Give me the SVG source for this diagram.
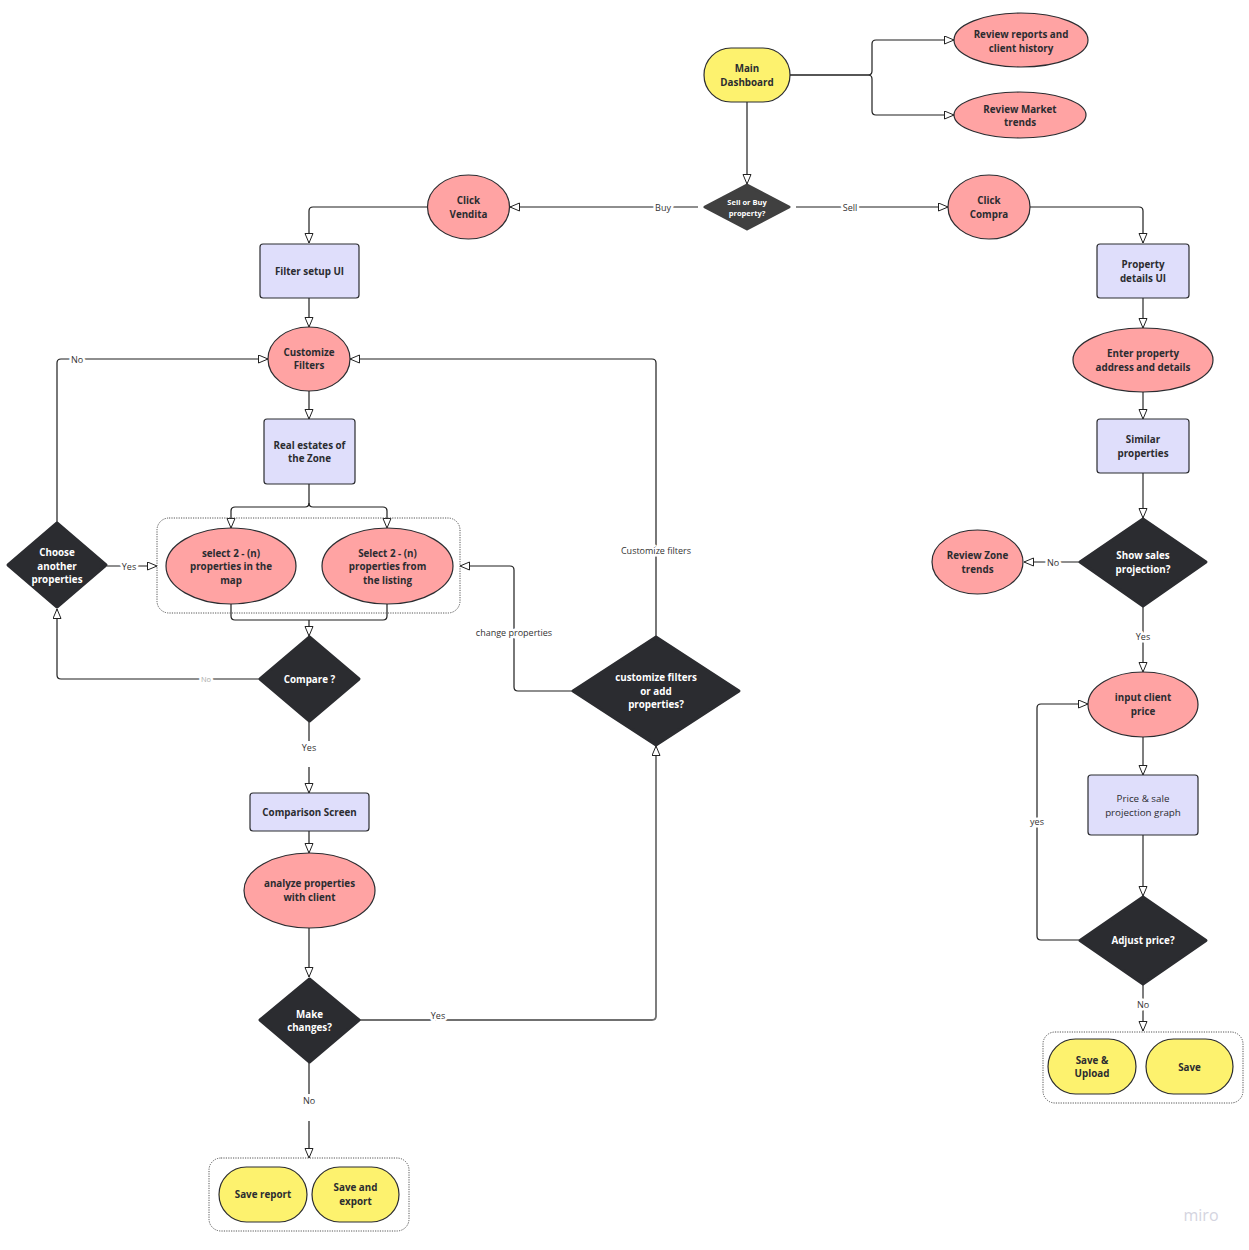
<svg xmlns="http://www.w3.org/2000/svg" width="1249" height="1250" viewBox="0 0 1249 1250">
<defs>
<marker id="arr" markerUnits="userSpaceOnUse" markerWidth="12" markerHeight="10" refX="10" refY="4.5" orient="auto">
<path d="M0.5,0.5 L10,4.5 L0.5,8.5 Z" fill="#fff" stroke="#222" stroke-width="1"/>
</marker>
</defs>
<style>
.yel{fill:#fdf26e;stroke:#2b2c30;stroke-width:1.2}
.pink{fill:#ffa3a3;stroke:#2b2c30;stroke-width:1.2}
.lav{fill:#dfdefb;stroke:#2b2c30;stroke-width:1.2}
.dia{fill:#2b2c30;stroke:#2b2c30;stroke-width:3;stroke-linejoin:round}
.grp{fill:none;stroke:#555;stroke-width:1;stroke-dasharray:1.2 1.2}
.t{font-family:"Open Sans","DejaVu Sans",sans-serif;font-size:9.8px;font-weight:bold;fill:#2b2c30;text-anchor:middle;dominant-baseline:central}
.tn{font-weight:normal}
.tw{fill:#ffffff}
.c{fill:none;stroke:#1e1e1e;stroke-width:1.2}
.cg{fill:none;stroke:#707070;stroke-width:1.8}
.lbl{font-family:"Open Sans","DejaVu Sans",sans-serif;font-size:9px;fill:#333;text-anchor:middle;dominant-baseline:central;stroke:#fff;stroke-width:5px;paint-order:stroke;stroke-linejoin:round}
</style>
<rect width="1249" height="1250" fill="#ffffff"/>

<g id="connectors">
<path class="c" d="M790,75 H868 Q872,75 872,71 V44 Q872,40 876,40 H954" marker-end="url(#arr)"/>
<path class="c" d="M790,75 H868 Q872,75 872,79 V111 Q872,115 876,115 H954" marker-end="url(#arr)"/>
<path class="c" d="M747,102 V184" marker-end="url(#arr)"/>
<path class="c" d="M698,207 H510" marker-end="url(#arr)"/>
<path class="c" d="M796,207 H948" marker-end="url(#arr)"/>
<path class="c" d="M428,207 H313 Q309,207 309,211 V243" marker-end="url(#arr)"/>
<path class="c" d="M1030,207 H1139 Q1143,207 1143,211 V243" marker-end="url(#arr)"/>
<path class="c" d="M309,298 V327" marker-end="url(#arr)"/>
<path class="c" d="M309,391 V419" marker-end="url(#arr)"/>
<path class="c" d="M309,484 V503 Q309,507 305,507 H235 Q231,507 231,511 V528" marker-end="url(#arr)"/>
<path class="c" d="M309,503 Q309,507 313,507 H383 Q387,507 387,511 V528" marker-end="url(#arr)"/>
<path class="c" d="M231,604 V616 Q231,620 235,620 H383 Q387,620 387,616 V604"/>
<path class="c" d="M309,620 V636" marker-end="url(#arr)"/>
<path class="c" d="M107,566 H157" marker-end="url(#arr)"/>
<path class="c" d="M57,522 V363 Q57,359 61,359 H268" marker-end="url(#arr)"/>
<path class="c" d="M259,679 H61 Q57,679 57,675 V609" marker-end="url(#arr)"/>
<path class="c" d="M309,722 V741"/>
<path class="c" d="M309,767 V793" marker-end="url(#arr)"/>
<path class="c" d="M309,831 V853" marker-end="url(#arr)"/>
<path class="c" d="M309,928 V977" marker-end="url(#arr)"/>
<path class="c" d="M309,1063 V1094"/>
<path class="c" d="M309,1121 V1158" marker-end="url(#arr)"/>
<path class="cg" d="M360,1020 H652 Q656,1020 656,1016 V746" marker-end="url(#arr)"/>
<path class="c" d="M656,636 V363 Q656,359 652,359 H350" marker-end="url(#arr)"/>
<path class="c" d="M572,691 H518 Q514,691 514,687 V570 Q514,566 510,566 H460" marker-end="url(#arr)"/>
<path class="cg" d="M1143,298 V328" marker-end="url(#arr)"/>
<path class="cg" d="M1143,392 V419" marker-end="url(#arr)"/>
<path class="cg" d="M1143,473 V518" marker-end="url(#arr)"/>
<path class="c" d="M1079,562 H1024" marker-end="url(#arr)"/>
<path class="cg" d="M1143,607 V672" marker-end="url(#arr)"/>
<path class="cg" d="M1143,737 V775" marker-end="url(#arr)"/>
<path class="cg" d="M1143,835 V896" marker-end="url(#arr)"/>
<path class="c" d="M1079,940 H1041 Q1037,940 1037,936 V708 Q1037,704 1041,704 H1088" marker-end="url(#arr)"/>
<path class="cg" d="M1143,985 V1031" marker-end="url(#arr)"/>

<text class="lbl" x="663" y="207">Buy</text>
<text class="lbl" x="850" y="207">Sell</text>
<text class="lbl" x="129" y="566">Yes</text>
<text class="lbl" x="77" y="359">No</text>
<text class="lbl" x="206" y="679" style="font-size:7.5px;fill:#aaa">No</text>
<text class="lbl" x="309" y="747">Yes</text>
<text class="lbl" x="309" y="1100">No</text>
<text class="lbl" x="438" y="1015">Yes</text>
<text class="lbl" x="656" y="550">Customize filters</text>
<text class="lbl" x="514" y="632">change properties</text>
<text class="lbl" x="1053" y="562">No</text>
<text class="lbl" x="1143" y="636">Yes</text>
<text class="lbl" x="1037" y="821">yes</text>
<text class="lbl" x="1143" y="1004">No</text>
</g>

<g id="main-dashboard">
<rect class="yel" x="704" y="48" width="86" height="54" rx="27"/>
<text class="t" x="747" y="68">Main</text>
<text class="t" x="747" y="82">Dashboard</text>
</g>
<g id="review-reports">
<ellipse class="pink" cx="1021" cy="40" rx="67" ry="27"/>
<text class="t" x="1021" y="34">Review reports and</text>
<text class="t" x="1021" y="48">client history</text>
</g>
<g id="review-market">
<ellipse class="pink" cx="1020" cy="115" rx="66" ry="23"/>
<text class="t" x="1020" y="109">Review Market</text>
<text class="t" x="1020" y="122">trends</text>
</g>
<g id="sell-or-buy">
<polygon class="dia" points="747,185 789,207 747,229 705,207" style="fill:#404040;stroke:#404040"/>
<text class="t tw" x="747" y="202" style="font-size:7.5px">Sell or Buy</text>
<text class="t tw" x="747" y="213" style="font-size:7.5px">property?</text>
</g>
<g id="click-vendita">
<ellipse class="pink" cx="468.5" cy="207" rx="41" ry="32"/>
<text class="t" x="468.5" y="200">Click</text>
<text class="t" x="468.5" y="214">Vendita</text>
</g>
<g id="click-compra">
<ellipse class="pink" cx="989" cy="207" rx="41" ry="32"/>
<text class="t" x="989" y="200">Click</text>
<text class="t" x="989" y="214">Compra</text>
</g>
<g id="filter-setup">
<rect class="lav" x="260" y="244" width="99" height="54" rx="3"/>
<text class="t" x="309.5" y="271">Filter setup UI</text>
</g>
<g id="customize-filters">
<ellipse class="pink" cx="309" cy="359" rx="41" ry="32"/>
<text class="t" x="309" y="352">Customize</text>
<text class="t" x="309" y="365">Filters</text>
</g>
<g id="real-estates">
<rect class="lav" x="264" y="419" width="91" height="65" rx="3"/>
<text class="t" x="309.5" y="445">Real estates of</text>
<text class="t" x="309.5" y="458">the Zone</text>
</g>
<g id="select-group">
<rect class="grp" x="157" y="518" width="303" height="95" rx="12"/>
<g id="select-map">
<ellipse class="pink" cx="231" cy="566" rx="65" ry="38"/>
<text class="t" x="231" y="553">select 2 - (n)</text>
<text class="t" x="231" y="566">properties in the</text>
<text class="t" x="231" y="580">map</text>
</g>
<g id="select-listing">
<ellipse class="pink" cx="387.5" cy="566" rx="65.5" ry="38"/>
<text class="t" x="387.5" y="553">Select 2 - (n)</text>
<text class="t" x="387.5" y="566">properties from</text>
<text class="t" x="387.5" y="580">the listing</text>
</g>
</g>
<g id="choose-another">
<polygon class="dia" points="57,523 106,565 57,607 8,565"/>
<text class="t tw" x="57" y="552">Choose</text>
<text class="t tw" x="57" y="566">another</text>
<text class="t tw" x="57" y="579">properties</text>
</g>
<g id="compare">
<polygon class="dia" points="309.5,637 359,679 309.5,721 260,679"/>
<text class="t tw" x="309.5" y="679">Compare ?</text>
</g>
<g id="comparison-screen">
<rect class="lav" x="250" y="793" width="119" height="38" rx="3"/>
<text class="t" x="309.5" y="812">Comparison Screen</text>
</g>
<g id="analyze">
<ellipse class="pink" cx="309.5" cy="890.5" rx="65.5" ry="37.5"/>
<text class="t" x="309.5" y="883">analyze properties</text>
<text class="t" x="309.5" y="897">with client</text>
</g>
<g id="make-changes">
<polygon class="dia" points="309.5,979 359,1020 309.5,1062 260,1020"/>
<text class="t tw" x="309.5" y="1014">Make</text>
<text class="t tw" x="309.5" y="1027">changes?</text>
</g>
<g id="save-group-left">
<rect class="grp" x="209" y="1158" width="200" height="73" rx="12"/>
<g id="save-report">
<rect class="yel" x="219" y="1167" width="88" height="55" rx="27.5"/>
<text class="t" x="263" y="1194">Save report</text>
</g>
<g id="save-export">
<rect class="yel" x="312" y="1167" width="87" height="55" rx="27.5"/>
<text class="t" x="355.5" y="1187">Save and</text>
<text class="t" x="355.5" y="1201">export</text>
</g>
</g>
<g id="customize-or-add">
<polygon class="dia" points="656,637 739,691 656,745 573,691"/>
<text class="t tw" x="656" y="677">customize filters</text>
<text class="t tw" x="656" y="691">or add</text>
<text class="t tw" x="656" y="704">properties?</text>
</g>
<g id="property-details">
<rect class="lav" x="1097" y="244" width="92" height="54" rx="3"/>
<text class="t" x="1143" y="264">Property</text>
<text class="t" x="1143" y="278">details UI</text>
</g>
<g id="enter-property">
<ellipse class="pink" cx="1143" cy="360" rx="70" ry="32"/>
<text class="t" x="1143" y="353">Enter property</text>
<text class="t" x="1143" y="367">address and details</text>
</g>
<g id="similar-properties">
<rect class="lav" x="1097" y="419" width="92" height="54" rx="3"/>
<text class="t" x="1143" y="439">Similar</text>
<text class="t" x="1143" y="453">properties</text>
</g>
<g id="show-sales">
<polygon class="dia" points="1143,519 1206,562 1143,606 1080,562"/>
<text class="t tw" x="1143" y="555">Show sales</text>
<text class="t tw" x="1143" y="569">projection?</text>
</g>
<g id="review-zone">
<ellipse class="pink" cx="977.5" cy="562" rx="45.5" ry="32"/>
<text class="t" x="977.5" y="555">Review Zone</text>
<text class="t" x="977.5" y="569">trends</text>
</g>
<g id="input-price">
<ellipse class="pink" cx="1143" cy="704.5" rx="55" ry="32.5"/>
<text class="t" x="1143" y="697">input client</text>
<text class="t" x="1143" y="711">price</text>
</g>
<g id="price-graph">
<rect class="lav" x="1088" y="775" width="110" height="60" rx="3"/>
<text class="t tn" x="1143" y="798">Price &amp; sale</text>
<text class="t tn" x="1143" y="812">projection graph</text>
</g>
<g id="adjust-price">
<polygon class="dia" points="1143,897 1206,940.5 1143,984 1080,940.5"/>
<text class="t tw" x="1143" y="940">Adjust price?</text>
</g>
<g id="save-group-right">
<rect class="grp" x="1043" y="1032" width="200" height="71" rx="12"/>
<g id="save-upload">
<rect class="yel" x="1048" y="1039" width="88" height="55" rx="27.5"/>
<text class="t" x="1092" y="1060">Save &amp;</text>
<text class="t" x="1092" y="1073">Upload</text>
</g>
<g id="save">
<rect class="yel" x="1146" y="1039" width="87" height="55" rx="27.5"/>
<text class="t" x="1189.5" y="1067">Save</text>
</g>
</g>
<text x="1201" y="1215" style="font-family:'Open Sans','DejaVu Sans',sans-serif;font-size:16px;fill:#d4d4e0;text-anchor:middle;dominant-baseline:central">miro</text>
</svg>
